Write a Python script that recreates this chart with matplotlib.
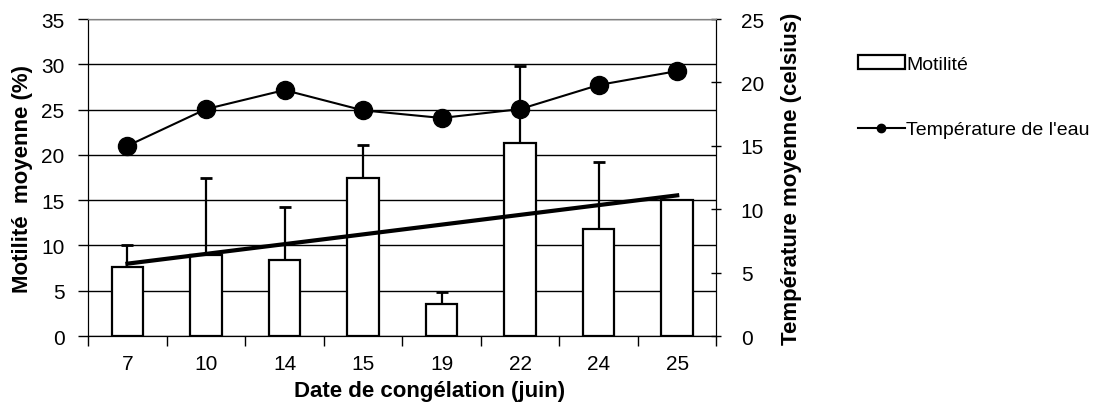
import numpy as np
import matplotlib.pyplot as plt
from matplotlib.lines import Line2D
from matplotlib.patches import Patch

plt.rcParams['font.family'] = ['Liberation Sans', 'DejaVu Sans']

dates = ['7', '10', '14', '15', '19', '22', '24', '25']
motilite = [7.6, 9.0, 8.4, 17.5, 3.5, 21.3, 11.8, 15.0]
motilite_err = [2.5, 8.5, 5.8, 3.6, 1.4, 8.5, 7.4, 0.0]
temperature = [15.0, 17.9, 19.4, 17.8, 17.2, 17.9, 19.8, 20.9]

x = np.arange(len(dates))

fig = plt.figure(figsize=(11.16, 4.10), dpi=100)
ax = fig.add_axes([0.079, 0.178, 0.563, 0.773])
ax2 = ax.twinx()

# bars with upper error bars only
ax.bar(x, motilite, width=0.4, color='white', edgecolor='black', linewidth=1.6, zorder=3)
ax.errorbar(x, motilite, yerr=[np.zeros(len(x)), motilite_err], fmt='none',
            ecolor='black', elinewidth=1.6, capsize=4, capthick=2, zorder=2)

# linear trend of motility
coef = np.polyfit(x, motilite, 1)
ax.plot(x, np.polyval(coef, x), color='black', lw=3, zorder=4)

ax2.plot(x, temperature, color='black', lw=1.5, marker='o', markersize=13, zorder=5)

ax.set_xlim(-0.5, len(x) - 0.5)
ax.set_ylim(0, 35)
ax.set_yticks(range(0, 36, 5))
ax2.set_ylim(0, 25)
ax2.set_yticks(range(0, 26, 5))

ax.set_xticks(x)
ax.set_xticklabels(dates)
ax.set_xticks(np.arange(-0.5, len(x), 1), minor=True)
ax.tick_params(axis='x', which='major', length=0, labelsize=15, pad=13)
ax.tick_params(axis='x', which='minor', length=7, width=1, direction='out')
ax.tick_params(axis='y', length=7, width=1, labelsize=15, pad=10)
ax2.tick_params(axis='y', length=7, width=1, direction='inout', labelsize=15, pad=14)

ax.yaxis.grid(True, color='black', lw=1)
ax.set_axisbelow(True)
ax.spines['top'].set_color('#808080')
ax2.spines['top'].set_color('#808080')

ax.set_xlabel('Date de congélation (juin)', fontsize=16, fontweight='bold')
ax.xaxis.set_label_coords(0.544, -0.14)
ax.set_ylabel('Motilité  moyenne (%)', fontsize=16, fontweight='bold', labelpad=6)
ax2.set_ylabel('Température moyenne (celsius)', fontsize=16, fontweight='bold', labelpad=12)

handles = [Patch(facecolor='white', edgecolor='black', linewidth=1.6),
           Line2D([], [], color='black', lw=1.5, marker='o', markersize=6)]
fig.legend(handles, ['Motilité', "Température de l'eau"], loc='upper left',
           bbox_to_anchor=(0.753, 0.905), frameon=False, fontsize=14,
           handlelength=2.4, handletextpad=0.1, labelspacing=2.45)

plt.savefig('out.png', dpi=100)
